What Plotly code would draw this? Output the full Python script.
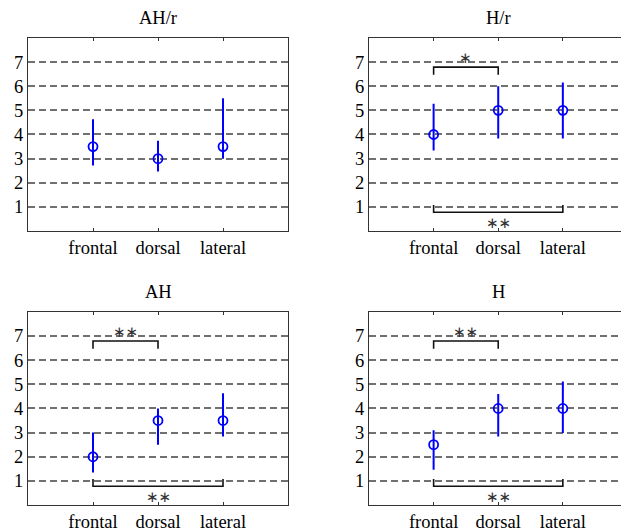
import plotly.graph_objects as go

categories = ["frontal", "dorsal", "lateral"]
titles = ["AH/r", "H/r", "AH", "H"]

means_ahr = [3.5, 3.0, 3.5]
upper_ahr = [4.63, 3.74, 5.5]
lower_ahr = [2.72, 2.47, 3.0]

means_hr = [4.0, 5.0, 5.0]
upper_hr = [5.27, 6.0, 6.15]
lower_hr = [3.34, 3.83, 3.83]

means_ah = [2.0, 3.5, 3.5]
upper_ah = [3.0, 4.0, 4.63]
lower_ah = [1.35, 2.5, 2.84]

means_h = [2.5, 4.0, 4.0]
upper_h = [3.1, 4.6, 5.12]
lower_h = [1.46, 2.84, 2.98]

# significance brackets: (panel index, from category, to category, label, side)
sig_brackets = [
    (1, "frontal", "dorsal", "∗", "top"),
    (1, "frontal", "lateral", "∗∗", "bottom"),
    (2, "frontal", "dorsal", "∗∗", "top"),
    (2, "frontal", "lateral", "∗∗", "bottom"),
    (3, "frontal", "dorsal", "∗∗", "top"),
    (3, "frontal", "lateral", "∗∗", "bottom"),
]

panels = [
    (means_ahr, upper_ahr, lower_ahr),
    (means_hr, upper_hr, lower_hr),
    (means_ah, upper_ah, lower_ah),
    (means_h, upper_h, lower_h),
]

W, H = 621, 532
FONT = "Liberation Serif, Times New Roman, serif"
FS = 18.5
BLUE = "#0000ff"

# pixel geometry of panels: (left, right, top, bottom)
geom = [
    (28, 288, 38, 232),
    (369, 621, 38, 232),
    (28, 288, 313, 507),
    (369, 621, 313, 507),
]
x_ranges = [[0, 4], [0, 3.9], [0, 4], [0, 3.9]]

xpos = {c: i + 1 for i, c in enumerate(categories)}

fig = go.Figure()
layout = dict(
    width=W, height=H, margin=dict(l=0, r=0, t=0, b=0),
    paper_bgcolor="white", plot_bgcolor="white", showlegend=False,
    font=dict(family=FONT, size=FS, color="black"),
)
annotations = []
shapes = []

for i, (m, up, lo) in enumerate(panels):
    n = "" if i == 0 else str(i + 1)
    xs = [xpos[c] for c in categories]
    fig.add_trace(go.Scatter(
        x=xs, y=m, mode="markers",
        marker=dict(symbol="circle-open", size=9, color=BLUE, line=dict(width=1.8, color=BLUE)),
        error_y=dict(type="data", symmetric=False,
                     array=[u - v for u, v in zip(up, m)],
                     arrayminus=[v - l for v, l in zip(m, lo)],
                     color=BLUE, thickness=2, width=0),
        xaxis="x" + n, yaxis="y" + n,
    ))
    L, R, T, B = geom[i]
    layout["xaxis" + n] = dict(
        domain=[L / W, R / W], range=x_ranges[i], anchor="y" + n,
        tickvals=xs, ticktext=categories, ticks="inside", ticklen=3,
        tickcolor="#333", showline=True, linecolor="#333", linewidth=1.3,
        mirror="ticks", showgrid=False, zeroline=False,
        tickfont=dict(family=FONT, size=FS),
    )
    layout["yaxis" + n] = dict(
        domain=[1 - B / H, 1 - T / H], range=[0, 8], anchor="x" + n,
        tickvals=[1, 2, 3, 4, 5, 6, 7], ticks="", showline=True,
        linecolor="#333", linewidth=1.3, mirror=(i % 2 == 0),
        showgrid=True, gridcolor="#707070", gridwidth=1.6, griddash="7px,4px",
        zeroline=False, tickfont=dict(family=FONT, size=FS),
    )
    annotations.append(dict(
        text=titles[i], x=(xpos["dorsal"] / x_ranges[i][1] * (R - L) + L) / W,
        y=1 - (18 if i < 2 else 293) / H, xref="paper", yref="paper",
        showarrow=False, xanchor="center", yanchor="middle",
        font=dict(family=FONT, size=FS),
    ))

for (pi, a, b, label, side) in sig_brackets:
    n = "" if pi == 0 else str(pi + 1)
    xa, xb = xpos[a], xpos[b]
    if side == "top":
        yl, ye, ys = 6.79, 6.47, 7.17
    else:
        yl, ye, ys = 0.78, 1.08, 0.32
    shapes.append(dict(
        type="path", xref="x" + n, yref="y" + n,
        path=f"M {xa},{ye} L {xa},{yl} L {xb},{yl} L {xb},{ye}",
        line=dict(color="#111", width=1.6),
    ))
    annotations.append(dict(
        text=label, x=(xa + xb) / 2, y=ys, xref="x" + n, yref="y" + n,
        showarrow=False, xanchor="center", yanchor="middle",
        font=dict(family="DejaVu Sans", size=15, color="#333"),
    ))

layout["annotations"] = annotations
layout["shapes"] = shapes
fig.update_layout(**layout)
fig.write_html("out.html")
